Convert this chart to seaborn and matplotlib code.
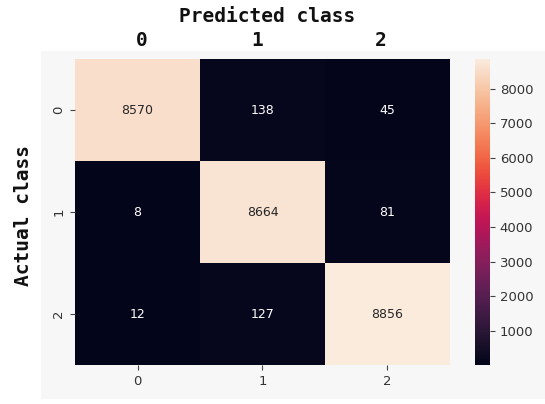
import numpy as np
import matplotlib
matplotlib.use("Agg")
import matplotlib.pyplot as plt
import seaborn as sns
from matplotlib.patches import Rectangle

# Confusion matrix counts (rows: actual, columns: predicted)
class_labels = ["0", "1", "2"]
row_0 = [8570, 138, 45]
row_1 = [8, 8664, 81]
row_2 = [12, 127, 8856]

cm = np.array([row_0, row_1, row_2])

plt.rcParams["font.size"] = 9.5

W, H = 545, 404
fig = plt.figure(figsize=(W / 100, H / 100), dpi=100, facecolor="white")

# light panel behind the heatmap
fig.patches.append(Rectangle((41 / W, 5 / H), 504 / W, 348 / H,
                             transform=fig.transFigure, facecolor="#f7f7f7",
                             edgecolor="none", zorder=-10))

ax = fig.add_axes([75 / W, 39 / H, 375 / W, 306 / H])
cax = fig.add_axes([475 / W, 39 / H, 15 / W, 306 / H])

sns.heatmap(cm, annot=True, fmt="d", ax=ax, cbar_ax=cax,
            xticklabels=class_labels, yticklabels=class_labels,
            annot_kws={"size": 9})

ax.set_yticklabels(class_labels, rotation=90, va="center")
for a in (ax, cax):
    a.tick_params(colors="#444444", labelcolor="#333333")

mono = {"family": "DejaVu Sans Mono", "weight": "bold", "color": "#111111"}

# column header above the heatmap
fig.text(267 / W, 1 - 16 / H, "Predicted class", ha="center", va="center",
         fontsize=14, **mono)
for xpx, lab in zip([142, 257, 381], class_labels):
    fig.text(xpx / W, 1 - 40 / H, lab, ha="center", va="center",
             fontsize=14, **mono)

# row header
fig.text(24 / W, 1 - 216 / H, "Actual class", ha="center", va="center",
         rotation=90, fontsize=14, **mono)

fig.savefig("out.png", dpi=100, facecolor="white")
